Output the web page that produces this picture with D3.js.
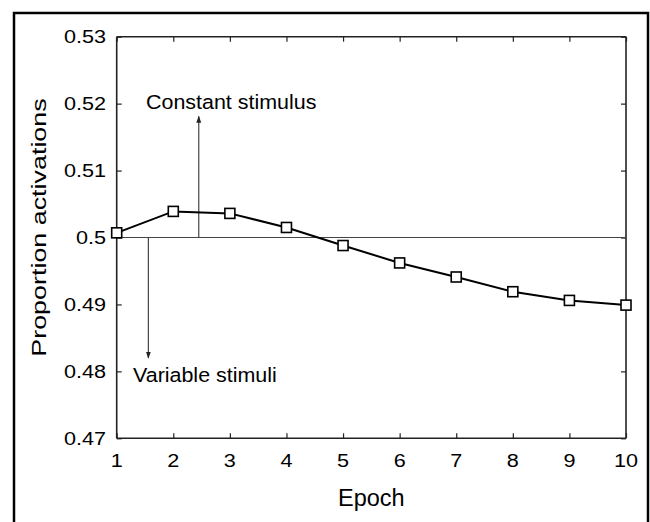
<!DOCTYPE html>
<html><head><meta charset="utf-8">
<script src="https://cdn.jsdelivr.net/npm/d3@7"></script>
<style>html,body{margin:0;padding:0;background:#fff;}svg{display:block;}</style>
</head><body>
<svg id="chart" width="650" height="522"></svg>
<script>
const epochs = [1,2,3,4,5,6,7,8,9,10];
const proportion = [0.5007,0.5039,0.5036,0.5015,0.4988,0.4962,0.4941,0.4919,0.4906,0.4899];
const yTicks = [0.47,0.48,0.49,0.5,0.51,0.52,0.53];
const yTickLabels = ["0.47","0.48","0.49","0.5","0.51","0.52","0.53"];
const xTicks = [1,2,3,4,5,6,7,8,9,10];
const referenceLevel = 0.5;
const annotations = [
  {label:"Constant stimulus", x:2.45, yEnd:0.5181},
  {label:"Variable stimuli", x:1.56, yEnd:0.4820}
];

const svg = d3.select("#chart");
const L = 116.7, R = 626, T = 36.7, B = 438.3;
const x = d3.scaleLinear().domain([1,10]).range([L,R]);
const y = d3.scaleLinear().domain([0.47,0.53]).range([B,T]);
const FONT = "'Liberation Sans', Arial, Helvetica, sans-serif";

// outer frame
svg.append("rect").attr("x",14).attr("y",13).attr("width",634).attr("height",520)
  .attr("fill","none").attr("stroke","#000").attr("stroke-width",2.5);

// axes
const axL = d3.axisLeft(y).tickValues(yTicks).tickSize(-5).tickFormat("");
const axR = d3.axisRight(y).tickValues(yTicks).tickSize(-5).tickFormat("");
const axB = d3.axisBottom(x).tickValues(xTicks).tickSize(-5).tickFormat("");
const axT = d3.axisTop(x).tickValues(xTicks).tickSize(-5).tickFormat("");
function styleAxis(g){
  g.selectAll(".domain").attr("stroke","#222").attr("stroke-width",1.6);
  g.selectAll(".tick line").attr("stroke","#222").attr("stroke-width",1.2);
}
svg.append("g").attr("transform",`translate(${L},0)`).call(axL).call(g=>{g.select(".domain").attr("d",`M0,${T}V${B}`);}).call(styleAxis);
svg.append("g").attr("transform",`translate(${R},0)`).call(axR).call(g=>{g.select(".domain").attr("d",`M0,${T}V${B}`);}).call(styleAxis);
svg.append("g").attr("transform",`translate(0,${B})`).call(axB).call(g=>{g.select(".domain").attr("d",`M${L},0H${R}`);}).call(styleAxis);
svg.append("g").attr("transform",`translate(0,${T})`).call(axT).call(g=>{g.select(".domain").attr("d",`M${L},0H${R}`);}).call(styleAxis);

// stretched text helper
function txt(str, px, py, size, sx, anchor, rot){
  const g = svg.append("g").attr("transform",`translate(${px},${py})${rot?` rotate(${rot})`:""} scale(${sx},1)`);
  g.append("text").text(str).attr("font-family",FONT).attr("font-size",size)
    .attr("text-anchor",anchor).attr("fill","#000");
}
// y tick labels
yTicks.forEach((v,i)=>txt(yTickLabels[i], 106, y(v)+6.7, 18.5, 1.17, "end"));
// x tick labels
xTicks.forEach(v=>txt(String(v), x(v), 467, 18.5, 1.17, "middle"));
// axis titles
txt("Epoch", (L+R)/2, 506, 23.5, 1, "middle");
txt("Proportion activations", 45.5, 227.5, 21, 1.28, "middle", -90);

// reference line at 0.5
svg.append("line").attr("x1",L).attr("x2",R).attr("y1",y(referenceLevel)).attr("y2",y(referenceLevel))
  .attr("stroke","#444").attr("stroke-width",1.2);

// annotation arrows
const defs = svg.append("defs");
defs.append("marker").attr("id","arr").attr("viewBox","0 0 10 10").attr("refX",9).attr("refY",5)
  .attr("markerWidth",7).attr("markerHeight",7).attr("markerUnits","userSpaceOnUse").attr("orient","auto")
  .append("path").attr("d","M0,1.5L10,5L0,8.5Z").attr("fill","#222");
annotations.forEach(a=>{
  svg.append("line").attr("x1",x(a.x)).attr("x2",x(a.x)).attr("y1",y(referenceLevel)).attr("y2",y(a.yEnd))
    .attr("stroke","#444").attr("stroke-width",1.2).attr("marker-end","url(#arr)");
});
txt(annotations[0].label, 146, 109, 19.5, 1.1, "start");
txt(annotations[1].label, 133, 382, 19.5, 1.1, "start");

// data line
const line = d3.line().x((d,i)=>x(epochs[i])).y(d=>y(d));
svg.append("path").datum(proportion).attr("d",line).attr("fill","none").attr("stroke","#000").attr("stroke-width",2);
svg.selectAll("rect.pt").data(proportion).enter().append("rect").attr("class","pt")
  .attr("x",(d,i)=>x(epochs[i])-5).attr("y",d=>y(d)-5).attr("width",10).attr("height",10)
  .attr("fill","#fff").attr("stroke","#000").attr("stroke-width",1.6);
</script>
</body></html>
